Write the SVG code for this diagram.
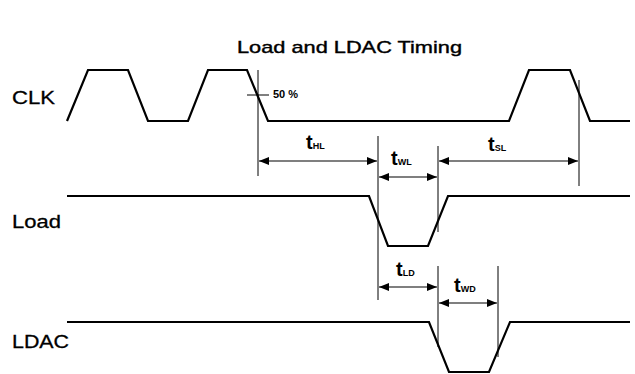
<svg xmlns="http://www.w3.org/2000/svg" width="635" height="374" viewBox="0 0 635 374">
<style>
.wave{fill:none;stroke:#000;stroke-width:2.2;stroke-linejoin:miter}
.ref{stroke:#000;stroke-width:1;fill:none}
.dim{stroke:#000;stroke-width:1.2;fill:none;marker-start:url(#ah);marker-end:url(#ah)}
.lbl{font-family:"Liberation Sans",Arial,sans-serif;font-size:19px;fill:#000;stroke:#000;stroke-width:0.3}
.title{font-family:"Liberation Sans",Arial,sans-serif;font-size:17px;fill:#000;stroke:#000;stroke-width:0.4}
.t{font-family:"Liberation Sans",Arial,sans-serif;font-size:20px;font-weight:bold;fill:#000}
.sub{font-size:9px}
.pct{font-family:"Liberation Sans",Arial,sans-serif;font-size:11px;font-weight:bold;fill:#000}
</style>
<defs>
<marker id="ah" viewBox="0 0 10 8" refX="10" refY="4" markerWidth="10" markerHeight="8" markerUnits="userSpaceOnUse" orient="auto-start-reverse">
<path d="M0,0 L10,4 L0,8 Z" fill="#000"/>
</marker>
</defs>
<rect width="635" height="374" fill="#fff"/>
<text class="title" x="237" y="53" textLength="225" lengthAdjust="spacingAndGlyphs">Load and LDAC Timing</text>

<g id="clk">
<text class="lbl" x="12" y="104" textLength="43" lengthAdjust="spacingAndGlyphs">CLK</text>
<path class="wave" d="M67,121 L88,70 L128,70 L148,121 L188,121 L208,70 L247,70 L268,121 L509,121 L529,70 L570,70 L590,121 L630,121"/>
</g>
<g id="load">
<text class="lbl" x="12" y="228" textLength="49" lengthAdjust="spacingAndGlyphs">Load</text>
<path class="wave" d="M67,196 L369,196 L388,246 L428,246 L448,196 L630,196"/>
</g>
<g id="ldac">
<text class="lbl" x="12" y="348" textLength="57" lengthAdjust="spacingAndGlyphs">LDAC</text>
<path class="wave" d="M67,322 L429,322 L449,372 L489,372 L510,322 L630,322"/>
</g>

<g id="connectors">
<line class="ref" x1="258" y1="70" x2="258" y2="176"/>
<line class="ref" x1="247" y1="95" x2="269" y2="95"/>
<line class="ref" x1="579" y1="80" x2="579" y2="186"/>
<line class="ref" x1="378" y1="136" x2="378" y2="300"/>
<line class="ref" x1="438" y1="146" x2="438" y2="232"/>
<line class="ref" x1="438" y1="266" x2="438" y2="347"/>
<line class="ref" x1="498" y1="266" x2="498" y2="357"/>
<line class="dim" x1="259" y1="161" x2="377" y2="161"/>
<line class="dim" x1="379" y1="177" x2="437" y2="177"/>
<line class="dim" x1="439" y1="161" x2="578" y2="161"/>
<line class="dim" x1="379" y1="287" x2="437" y2="287"/>
<line class="dim" x1="439" y1="303" x2="497" y2="303"/>
</g>

<g id="labels">
<text class="pct" x="273" y="98">50 %</text>
<text class="t" x="306" y="149">t<tspan class="sub">HL</tspan></text>
<text class="t" x="391" y="165">t<tspan class="sub">WL</tspan></text>
<text class="t" x="488" y="151">t<tspan class="sub">SL</tspan></text>
<text class="t" x="396" y="276">t<tspan class="sub">LD</tspan></text>
<text class="t" x="454" y="292">t<tspan class="sub">WD</tspan></text>
</g>
</svg>
